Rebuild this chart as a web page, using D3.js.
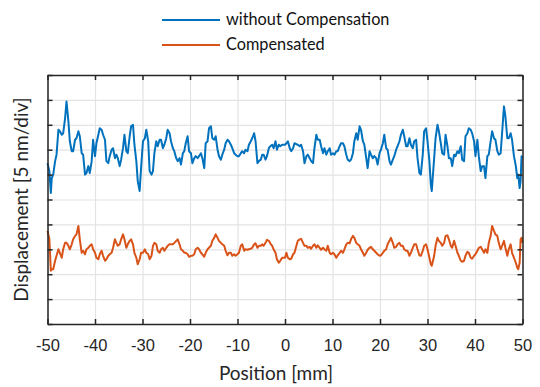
<!DOCTYPE html>
<html>
<head>
<meta charset="utf-8">
<script src="https://cdn.jsdelivr.net/npm/d3@7"></script>
<style>
  body { margin: 0; background: #fff; }
  svg { display: block; font-family: Lato, "Open Sans", sans-serif; }
</style>
</head>
<body>
<div id="chart"></div>
<script>
// positions along the stage [mm]
const positions = [
  -50, -49.6, -49.3, -49.1, -48.8, -48.4, -48.1, -47.7, -47.4, -47.0,
  -46.7, -46.3, -46.0, -45.6, -45.3, -44.9, -44.6, -44.2, -43.9, -43.5,
  -43.2, -42.8, -42.5, -42.1, -41.8, -41.4, -41.1, -40.7, -40.4, -40.0,
  -39.7, -39.3, -39.0, -38.6, -38.3, -37.9, -37.6, -37.2, -36.9, -36.5,
  -36.2, -35.8, -35.5, -35.2, -34.8, -34.5, -34.1, -33.8, -33.4, -33.1,
  -32.7, -32.4, -32.0, -31.7, -31.3, -31.0, -30.6, -30.3, -29.9, -29.5,
  -29.2, -28.8, -28.5, -28.1, -27.8, -27.5, -27.1, -26.8, -26.4, -26.1,
  -25.7, -25.4, -25.0, -24.7, -24.3, -24.0, -23.6, -23.3, -22.9, -22.6,
  -22.2, -21.9, -21.5, -21.2, -20.9, -20.5, -20.2, -19.8, -19.5, -19.1,
  -18.8, -18.4, -18.1, -17.7, -17.4, -17.0, -16.7, -16.3, -16.0, -15.6,
  -15.3, -14.9, -14.6, -14.2, -13.9, -13.5, -13.2, -12.8, -12.5, -12.1,
  -11.8, -11.4, -11.1, -10.7, -10.4, -10.0, -9.7, -9.3, -9.0, -8.6,
  -8.3, -7.9, -7.6, -7.2, -6.9, -6.5, -6.2, -5.8, -5.5, -5.1,
  -4.8, -4.5, -4.1, -3.8, -3.4, -3.1, -2.7, -2.4, -2.0, -1.7,
  -1.3, -1.0, -0.6, 0.0, 0.3, 0.6, 1.0, 1.3, 1.7, 2.0,
  2.4, 2.7, 3.1, 3.4, 3.8, 4.1, 4.5, 4.8, 5.2, 5.5,
  5.9, 6.2, 6.6, 6.9, 7.3, 7.6, 8.0, 8.3, 8.7, 9.0,
  9.4, 9.7, 10.1, 10.4, 10.8, 11.1, 11.5, 11.8, 12.2, 12.5,
  12.9, 13.2, 13.6, 13.9, 14.3, 14.6, 15.0, 15.3, 15.7, 16.0,
  16.4, 16.7, 17.1, 17.4, 17.8, 18.1, 18.5, 18.8, 19.2, 19.5,
  19.9, 20.2, 20.6, 20.9, 21.3, 21.6, 22.0, 22.3, 22.7, 23.0,
  23.4, 23.7, 24.1, 24.4, 24.8, 25.1, 25.5, 25.8, 26.2, 26.5,
  26.9, 27.2, 27.6, 27.9, 28.3, 28.6, 29.0, 29.3, 29.7, 30.0,
  30.4, 30.7, 30.9, 31.4, 31.7, 32.1, 32.4, 32.8, 33.1, 33.5,
  33.8, 34.2, 34.5, 34.9, 35.2, 35.6, 35.9, 36.3, 36.6, 37.0,
  37.3, 37.7, 38.0, 38.4, 38.7, 39.1, 39.4, 39.8, 40.1, 40.5,
  40.8, 41.2, 41.5, 41.9, 42.2, 42.6, 42.9, 43.3, 43.6, 44.0,
  44.3, 44.7, 45.0, 45.4, 45.7, 46.1, 46.4, 46.8, 47.1, 47.5,
  47.8, 48.2, 48.6, 48.9, 49.1, 49.4, 49.6, 49.8, 50.0
];

// displacement [nm], offset so each trace sits in its own band (5 nm per div)
const uncompensated = [
  32.3, 30.7, 26.3, 29.3, 30.0, 32.7, 34.0, 39.0, 38.7, 38.0,
  38.3, 41.3, 44.7, 40.7, 36.7, 34.7, 34.7, 37.0, 37.3, 38.7,
  37.7, 34.3, 34.0, 30.0, 30.3, 31.7, 30.3, 32.7, 37.0, 33.7,
  36.3, 38.0, 39.3, 39.0, 38.0, 37.0, 32.7, 32.3, 33.7, 35.0,
  35.3, 33.3, 34.0, 33.3, 31.7, 33.0, 35.3, 38.0, 34.7, 34.3,
  37.7, 39.7, 40.0, 36.0, 32.7, 28.7, 26.7, 31.3, 36.7, 37.3,
  39.0, 36.7, 30.7, 30.0, 30.7, 34.3, 36.7, 35.7, 37.0, 37.0,
  35.3, 36.0, 37.3, 39.0, 38.3, 36.7, 35.3, 34.7, 33.3, 32.7,
  33.3, 32.0, 34.3, 34.7, 36.3, 37.7, 34.7, 34.3, 32.3, 33.3,
  33.7, 33.3, 33.7, 34.3, 33.3, 31.3, 36.3, 36.7, 39.3, 39.7,
  37.3, 37.0, 37.7, 35.0, 33.7, 33.0, 34.0, 35.0, 36.3, 37.0,
  36.7, 36.0, 35.3, 34.3, 34.0, 33.7, 33.7, 34.3, 34.7, 34.3,
  35.0, 34.7, 36.0, 36.7, 37.3, 38.3, 36.7, 32.3, 32.7, 33.0,
  34.0, 34.0, 33.0, 33.7, 35.3, 35.7, 36.0, 35.3, 36.7, 35.0,
  36.0, 35.7, 36.0, 36.0, 36.3, 36.7, 35.3, 34.7, 35.3, 36.3,
  36.1, 36.0, 35.7, 36.0, 34.7, 32.3, 33.7, 34.0, 33.3, 32.7,
  32.3, 35.3, 38.0, 37.0, 37.0, 35.7, 34.3, 35.3, 34.0, 34.7,
  35.3, 34.0, 34.3, 34.0, 34.7, 34.7, 35.7, 36.3, 36.3, 35.7,
  34.0, 33.0, 32.7, 33.0, 34.3, 36.7, 38.3, 37.0, 39.7, 39.0,
  36.7, 36.0, 33.3, 31.3, 34.7, 34.0, 33.3, 33.7, 33.3, 32.0,
  34.3, 35.0, 36.3, 38.0, 35.3, 35.0, 32.7, 32.0, 33.0, 33.7,
  35.0, 35.7, 36.7, 38.0, 39.0, 37.7, 35.7, 35.7, 37.3, 36.0,
  35.3, 36.7, 37.0, 33.3, 30.3, 30.0, 34.0, 38.7, 39.3, 36.7,
  32.7, 28.0, 26.7, 33.3, 37.3, 40.0, 38.7, 36.3, 34.3, 34.0,
  38.0, 35.7, 33.3, 33.3, 31.7, 34.0, 33.7, 34.7, 34.3, 35.7,
  33.0, 32.7, 37.7, 38.3, 39.3, 39.0, 38.3, 36.7, 33.7, 37.0,
  33.7, 30.7, 31.7, 31.7, 29.3, 33.7, 34.0, 36.7, 38.7, 37.3,
  37.0, 34.7, 34.0, 34.3, 38.3, 43.7, 41.7, 37.3, 37.3, 38.3,
  37.0, 33.7, 31.7, 29.3, 30.0, 27.3, 28.7, 33.7, 33.3
];

const compensated = [
  18.7, 17.0, 10.7, 11.0, 11.0, 12.7, 13.7, 15.0, 14.3, 13.3,
  15.0, 16.3, 16.3, 15.7, 15.0, 16.0, 17.0, 17.7, 18.0, 19.7,
  17.0, 14.3, 14.7, 14.0, 15.0, 15.3, 15.7, 16.0, 15.0, 14.3,
  13.3, 13.0, 14.0, 14.7, 13.7, 12.7, 13.0, 13.7, 14.0, 14.3,
  15.3, 17.0, 16.3, 15.7, 16.0, 17.0, 18.0, 17.0, 15.3, 16.0,
  16.7, 17.0, 16.0, 14.3, 13.3, 12.0, 13.0, 14.3, 14.3, 15.0,
  14.3, 14.0, 13.0, 13.7, 15.7, 16.3, 16.0, 14.7, 14.3, 15.0,
  15.3, 14.7, 15.3, 15.7, 16.0, 16.0, 16.0, 16.3, 16.7, 17.0,
  16.0, 15.0, 14.7, 14.3, 14.3, 14.0, 13.5, 13.7, 13.7, 14.0,
  15.0, 15.3, 15.0, 14.3, 14.0, 13.5, 14.3, 15.0, 15.3, 15.7,
  16.7, 17.3, 18.0, 17.3, 16.7, 16.3, 16.0, 15.7, 14.7, 13.8,
  14.3, 14.3, 13.7, 14.0, 13.7, 14.0, 14.3, 15.7, 16.0, 14.7,
  15.0, 14.9, 15.0, 15.1, 15.3, 16.0, 16.2, 15.3, 15.7, 15.7,
  16.0, 15.7, 16.3, 16.9, 16.7, 16.2, 15.7, 15.0, 14.3, 13.0,
  12.3, 12.7, 13.3, 13.3, 14.3, 13.3, 13.0, 13.1, 14.0, 14.3,
  15.7, 16.7, 17.0, 17.1, 16.3, 15.7, 15.7, 15.3, 15.5, 15.1,
  15.7, 16.0, 15.3, 15.8, 15.3, 14.9, 15.3, 15.0, 14.7, 15.7,
  14.3, 14.0, 14.3, 14.0, 13.3, 13.8, 14.3, 14.7, 14.3, 15.0,
  16.0, 16.3, 16.2, 17.0, 17.7, 17.3, 16.3, 16.0, 15.7, 15.0,
  14.3, 13.7, 14.3, 14.9, 15.3, 15.5, 15.0, 14.7, 14.3, 14.0,
  13.7, 13.8, 14.3, 14.7, 15.0, 16.0, 16.7, 17.3, 16.3, 15.3,
  15.5, 16.0, 16.3, 15.7, 15.7, 15.0, 14.7, 14.7, 13.7, 14.3,
  15.3, 16.0, 16.0, 15.0, 13.8, 13.7, 14.7, 15.7, 16.0, 15.0,
  13.3, 12.0, 11.7, 13.7, 15.7, 17.3, 16.7, 16.3, 15.7, 16.3,
  17.7, 17.8, 17.0, 15.7, 15.3, 16.7, 15.7, 14.3, 13.7, 12.7,
  12.5, 12.7, 13.7, 14.5, 14.3, 13.3, 13.1, 13.7, 14.0, 14.7,
  15.3, 15.5, 15.0, 14.3, 15.0, 14.3, 16.3, 17.7, 19.7, 18.7,
  18.0, 17.7, 16.3, 15.0, 15.7, 16.7, 15.3, 13.7, 15.0, 16.0,
  14.3, 13.3, 12.3, 11.3, 11.0, 12.3, 17.0, 17.3, 16.3
];

const xTicks = [-50, -40, -30, -20, -10, 0, 10, 20, 30, 40, 50];
const yTicks = [0, 5, 10, 15, 20, 25, 30, 35, 40, 45, 50];

const seriesNames = ["without Compensation", "Compensated"];
const seriesColors = ["#0072bd", "#d95319"];

const W = 540, H = 387;
const plotL = 47.5, plotR = 522.5, plotT = 75, plotB = 324;

const svg = d3.select("#chart").append("svg")
  .attr("width", W)
  .attr("height", H);

const x = d3.scaleLinear().domain([-50, 50]).range([plotL, plotR]);
const y = d3.scaleLinear().domain([0, 50]).range([plotB, plotT]);

// grid
svg.append("g")
  .attr("transform", "translate(0," + plotB + ")")
  .call(d3.axisBottom(x).tickValues(xTicks).tickSize(-(plotB - plotT)).tickFormat(""))
  .call(g => g.select(".domain").remove())
  .selectAll("line").attr("stroke", "#e3e3e3").attr("stroke-width", 1.2);

svg.append("g")
  .attr("transform", "translate(" + plotL + ",0)")
  .call(d3.axisLeft(y).tickValues(yTicks).tickSize(-(plotR - plotL)).tickFormat(""))
  .call(g => g.select(".domain").remove())
  .selectAll("line").attr("stroke", "#e3e3e3").attr("stroke-width", 1.2);

// data lines
const line = d3.line()
  .x((d, i) => x(positions[i]))
  .y(d => y(d));

[uncompensated, compensated].forEach((vals, k) => {
  svg.append("path")
    .datum(vals)
    .attr("fill", "none")
    .attr("stroke", seriesColors[k])
    .attr("stroke-width", 2)
    .attr("stroke-linejoin", "round")
    .attr("d", line);
});

// box axes, ticks pointing inward
const axisColor = "#262626";
function styleAxis(g) {
  g.select(".domain").attr("stroke", axisColor).attr("stroke-width", 1.5);
  g.selectAll(".tick line").attr("stroke", axisColor).attr("stroke-width", 1.5);
  g.selectAll("text").attr("fill", axisColor).style("font-size", "16.5px");
}

svg.append("g")
  .attr("transform", "translate(0," + plotB + ")")
  .call(d3.axisBottom(x).tickValues(xTicks).tickFormat(d => String(d))
    .tickSizeInner(-5).tickSizeOuter(0).tickPadding(15))
  .call(styleAxis);

svg.append("g")
  .attr("transform", "translate(0," + plotT + ")")
  .call(d3.axisTop(x).tickValues(xTicks).tickSizeInner(-5).tickSizeOuter(0).tickFormat(""))
  .call(styleAxis);

svg.append("g")
  .attr("transform", "translate(" + plotL + ",0)")
  .call(d3.axisLeft(y).tickValues(yTicks).tickSizeInner(-5).tickSizeOuter(0).tickFormat(""))
  .call(styleAxis);

svg.append("g")
  .attr("transform", "translate(" + plotR + ",0)")
  .call(d3.axisRight(y).tickValues(yTicks).tickSizeInner(-5).tickSizeOuter(0).tickFormat(""))
  .call(styleAxis);

// axis titles
svg.append("text")
  .attr("x", 276)
  .attr("y", 380)
  .attr("text-anchor", "middle")
  .attr("fill", axisColor)
  .style("font-size", "19px")
  .text("Position [mm]");

svg.append("text")
  .attr("transform", "translate(28," + ((plotT + plotB) / 2) + ") rotate(-90)")
  .attr("text-anchor", "middle")
  .attr("fill", axisColor)
  .style("font-size", "19px")
  .text("Displacement [5 nm/div]");

// legend
const legend = svg.append("g");
seriesNames.forEach((name, k) => {
  const ly = 20 + k * 25;
  legend.append("line")
    .attr("x1", 162).attr("x2", 220)
    .attr("y1", ly).attr("y2", ly)
    .attr("stroke", seriesColors[k])
    .attr("stroke-width", 2);
  legend.append("text")
    .attr("x", 226)
    .attr("y", ly)
    .attr("dy", "0.32em")
    .attr("fill", "#111")
    .style("font-size", "16.3px")
    .text(name);
});
</script>
</body>
</html>
